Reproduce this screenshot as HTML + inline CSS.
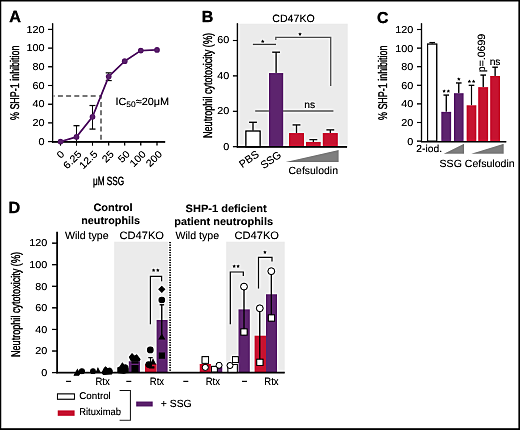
<!DOCTYPE html>
<html><head><meta charset="utf-8"><style>
html,body{margin:0;padding:0;background:#fff;}
body{width:520px;height:430px;overflow:hidden;position:relative;}
svg{position:absolute;left:0;top:0;font-family:"Liberation Sans", sans-serif;}
text{stroke:#000;stroke-width:0.08px;}
svg{will-change:transform;text-rendering:geometricPrecision;}
</style></head><body>
<svg width="520" height="430" viewBox="0 0 520 430">
<defs><filter id="f" x="0" y="0" width="520" height="430" filterUnits="userSpaceOnUse" color-interpolation-filters="sRGB">
<feGaussianBlur in="SourceGraphic" stdDeviation="0.35" result="s"/>
<feGaussianBlur in="s" stdDeviation="0.9" result="b"/>
<feComposite in="s" in2="b" operator="arithmetic" k1="0" k2="1.45" k3="-0.45" k4="0"/>
</filter></defs>
<g filter="url(#f)">
<rect x="0" y="0" width="520" height="430" fill="#fff"/>
<text x="9.3" y="21.6" font-size="16.2" text-anchor="start" font-weight="bold" fill="#000" style="stroke-width:0.35px">A</text>
<text transform="translate(19.4,82.8) rotate(-90)" font-size="12.5" text-anchor="middle" textLength="74.5" lengthAdjust="spacingAndGlyphs" style="stroke-width:0.35px">% SHP-1 inhibition</text>
<line x1="52.6" y1="23.3" x2="52.6" y2="142.3" stroke="#000" stroke-width="1.4" />
<line x1="48.1" y1="141.6" x2="52.6" y2="141.6" stroke="#000" stroke-width="1.2" />
<text transform="translate(44.400000000000006,144.79999999999998) scale(1.08,1)" font-size="10" text-anchor="end">0</text>
<line x1="48.1" y1="122.89999999999999" x2="52.6" y2="122.89999999999999" stroke="#000" stroke-width="1.2" />
<text transform="translate(44.400000000000006,126.1) scale(1.08,1)" font-size="10" text-anchor="end">20</text>
<line x1="48.1" y1="104.19999999999999" x2="52.6" y2="104.19999999999999" stroke="#000" stroke-width="1.2" />
<text transform="translate(44.400000000000006,107.39999999999999) scale(1.08,1)" font-size="10" text-anchor="end">40</text>
<line x1="48.1" y1="85.5" x2="52.6" y2="85.5" stroke="#000" stroke-width="1.2" />
<text transform="translate(44.400000000000006,88.7) scale(1.08,1)" font-size="10" text-anchor="end">60</text>
<line x1="48.1" y1="66.79999999999998" x2="52.6" y2="66.79999999999998" stroke="#000" stroke-width="1.2" />
<text transform="translate(44.400000000000006,69.99999999999999) scale(1.08,1)" font-size="10" text-anchor="end">80</text>
<line x1="48.1" y1="48.099999999999994" x2="52.6" y2="48.099999999999994" stroke="#000" stroke-width="1.2" />
<text transform="translate(44.400000000000006,51.3) scale(1.08,1)" font-size="10" text-anchor="end">100</text>
<line x1="48.1" y1="29.39999999999999" x2="52.6" y2="29.39999999999999" stroke="#000" stroke-width="1.2" />
<text transform="translate(44.400000000000006,32.599999999999994) scale(1.08,1)" font-size="10" text-anchor="end">120</text>
<line x1="51.9" y1="141.85" x2="165.2" y2="141.85" stroke="#000" stroke-width="1.8" />
<line x1="60.5" y1="141.6" x2="60.5" y2="145.6" stroke="#000" stroke-width="1.2" />
<text transform="translate(65.1,154.7) rotate(-45) scale(1.08,1)" font-size="10" text-anchor="end">0</text>
<line x1="76.5" y1="141.6" x2="76.5" y2="145.6" stroke="#000" stroke-width="1.2" />
<text transform="translate(82.2,154.7) rotate(-45) scale(1.08,1)" font-size="10" text-anchor="end">6.25</text>
<line x1="92.5" y1="141.6" x2="92.5" y2="145.6" stroke="#000" stroke-width="1.2" />
<text transform="translate(98.2,154.7) rotate(-45) scale(1.08,1)" font-size="10" text-anchor="end">12.5</text>
<line x1="108.7" y1="141.6" x2="108.7" y2="145.6" stroke="#000" stroke-width="1.2" />
<text transform="translate(114.4,154.7) rotate(-45) scale(1.08,1)" font-size="10" text-anchor="end">25</text>
<line x1="124.7" y1="141.6" x2="124.7" y2="145.6" stroke="#000" stroke-width="1.2" />
<text transform="translate(130.4,154.7) rotate(-45) scale(1.08,1)" font-size="10" text-anchor="end">50</text>
<line x1="140.8" y1="141.6" x2="140.8" y2="145.6" stroke="#000" stroke-width="1.2" />
<text transform="translate(146.5,154.7) rotate(-45) scale(1.08,1)" font-size="10" text-anchor="end">100</text>
<line x1="157.0" y1="141.6" x2="157.0" y2="145.6" stroke="#000" stroke-width="1.2" />
<text transform="translate(162.7,154.7) rotate(-45) scale(1.08,1)" font-size="10" text-anchor="end">200</text>
<path d="M53.6,95.9 H101.0 V141" fill="none" stroke="#666" stroke-width="1.5" stroke-dasharray="5,3.2" stroke-dashoffset="3.9"/>
<line x1="76.5" y1="125.705" x2="76.5" y2="141.6" stroke="#222" stroke-width="1.2" />
<line x1="73.5" y1="125.705" x2="79.5" y2="125.705" stroke="#222" stroke-width="1.3" />
<line x1="73.5" y1="141.6" x2="79.5" y2="141.6" stroke="#222" stroke-width="1.3" />
<line x1="92.5" y1="105.50899999999999" x2="92.5" y2="129.071" stroke="#222" stroke-width="1.2" />
<line x1="89.5" y1="105.50899999999999" x2="95.5" y2="105.50899999999999" stroke="#222" stroke-width="1.3" />
<line x1="89.5" y1="129.071" x2="95.5" y2="129.071" stroke="#222" stroke-width="1.3" />
<line x1="108.7" y1="72.87749999999998" x2="108.7" y2="80.5445" stroke="#222" stroke-width="1.2" />
<line x1="105.7" y1="72.87749999999998" x2="111.7" y2="72.87749999999998" stroke="#222" stroke-width="1.3" />
<line x1="105.7" y1="80.5445" x2="111.7" y2="80.5445" stroke="#222" stroke-width="1.3" />
<polyline points="60.5,141.6 76.5,136.9 92.5,116.8 108.7,76.6 124.7,61.2 140.8,50.6 157.0,49.9" fill="none" stroke="#5d246e" stroke-width="1.8"/>
<circle cx="60.5" cy="141.6" r="2.9" fill="#5d246e"/>
<circle cx="76.5" cy="136.9" r="2.9" fill="#5d246e"/>
<circle cx="92.5" cy="116.8" r="2.9" fill="#5d246e"/>
<circle cx="108.7" cy="76.6" r="2.9" fill="#5d246e"/>
<circle cx="124.7" cy="61.2" r="2.9" fill="#5d246e"/>
<circle cx="140.8" cy="50.6" r="2.9" fill="#5d246e"/>
<circle cx="157.0" cy="49.9" r="2.9" fill="#5d246e"/>
<text transform="translate(115.4,104.6) scale(1.05,1)" font-size="10.4">IC<tspan font-size="8" dy="2.2">50</tspan><tspan dy="-2.2">≈20μM</tspan></text>
<text transform="translate(108.5,185.2)" font-size="12" text-anchor="middle" textLength="31.2" lengthAdjust="spacingAndGlyphs" style="stroke-width:0.35px">μM SSG</text>
<text x="201.8" y="21.9" font-size="16.0" text-anchor="start" font-weight="bold" fill="#000" style="stroke-width:0.35px">B</text>
<text x="272.3" y="21.6" font-size="10.6" text-anchor="start" font-weight="normal" fill="#000" >CD47KO</text>
<rect x="237.4" y="23.7" width="110.29999999999998" height="122.99999999999999" fill="#ebebeb" stroke="none" stroke-width="1"/>
<text transform="translate(211.7,85.5) rotate(-90)" font-size="12.5" text-anchor="middle" textLength="105" lengthAdjust="spacingAndGlyphs" style="stroke-width:0.35px">Neutrophil cytotoxicity (%)</text>
<line x1="237.4" y1="23.3" x2="237.4" y2="147.2" stroke="#000" stroke-width="1.4" />
<line x1="232.9" y1="146.7" x2="237.4" y2="146.7" stroke="#000" stroke-width="1.2" />
<text transform="translate(229.20000000000002,149.5) scale(1.08,1)" font-size="10" text-anchor="end">0</text>
<line x1="232.9" y1="111.29999999999998" x2="237.4" y2="111.29999999999998" stroke="#000" stroke-width="1.2" />
<text transform="translate(229.20000000000002,114.09999999999998) scale(1.08,1)" font-size="10" text-anchor="end">20</text>
<line x1="232.9" y1="75.89999999999999" x2="237.4" y2="75.89999999999999" stroke="#000" stroke-width="1.2" />
<text transform="translate(229.20000000000002,78.69999999999999) scale(1.08,1)" font-size="10" text-anchor="end">40</text>
<line x1="232.9" y1="40.499999999999986" x2="237.4" y2="40.499999999999986" stroke="#000" stroke-width="1.2" />
<text transform="translate(229.20000000000002,43.29999999999998) scale(1.08,1)" font-size="10" text-anchor="end">60</text>
<line x1="255.2" y1="111" x2="333.4" y2="111" stroke="#666" stroke-width="1.3" />
<text x="309.8" y="108.2" font-size="10.3" text-anchor="middle" font-weight="normal" fill="#000" >ns</text>
<line x1="252.9" y1="44.4" x2="276" y2="44.4" stroke="#555" stroke-width="1.3" />
<polygon points="262.70,39.60 263.20,40.81 264.51,40.91 263.51,41.76 263.82,43.04 262.70,42.35 261.58,43.04 261.89,41.76 260.89,40.91 262.20,40.81" fill="#000"/>
<path d="M275.8,40 V37.4 H330.7 V86" fill="none" stroke="#666" stroke-width="1.3"/>
<polygon points="300.00,32.30 300.50,33.51 301.81,33.61 300.81,34.46 301.12,35.74 300.00,35.05 298.88,35.74 299.19,34.46 298.19,33.61 299.50,33.51" fill="#000"/>
<line x1="253.0" y1="130.416" x2="253.0" y2="122.27399999999999" stroke="#1a1a1a" stroke-width="1.3" />
<line x1="249.1" y1="122.27399999999999" x2="256.9" y2="122.27399999999999" stroke="#1a1a1a" stroke-width="1.3" />
<rect x="245.9" y="131.016" width="14.199999999999978" height="15.683999999999992" fill="#fff" stroke="#000" stroke-width="1.2"/>
<line x1="276.1" y1="73.06799999999998" x2="276.1" y2="52.18199999999999" stroke="#1a1a1a" stroke-width="1.3" />
<line x1="272.20000000000005" y1="52.18199999999999" x2="280.0" y2="52.18199999999999" stroke="#1a1a1a" stroke-width="1.3" />
<rect x="269.0" y="73.06799999999998" width="14.199999999999989" height="73.632" fill="#5d246e" stroke="none" stroke-width="1"/>
<line x1="296.5" y1="133.071" x2="296.5" y2="124.92899999999999" stroke="#1a1a1a" stroke-width="1.3" />
<line x1="292.6" y1="124.92899999999999" x2="300.4" y2="124.92899999999999" stroke="#1a1a1a" stroke-width="1.3" />
<rect x="289" y="133.071" width="15" height="13.62899999999999" fill="#c61330" stroke="none" stroke-width="1"/>
<line x1="313.35" y1="141.921" x2="313.35" y2="139.61999999999998" stroke="#1a1a1a" stroke-width="1.3" />
<line x1="309.45000000000005" y1="139.61999999999998" x2="317.25" y2="139.61999999999998" stroke="#1a1a1a" stroke-width="1.3" />
<rect x="306" y="141.921" width="14.699999999999989" height="4.778999999999996" fill="#c61330" stroke="none" stroke-width="1"/>
<line x1="330.3" y1="133.071" x2="330.3" y2="129.885" stroke="#1a1a1a" stroke-width="1.3" />
<line x1="326.40000000000003" y1="129.885" x2="334.2" y2="129.885" stroke="#1a1a1a" stroke-width="1.3" />
<rect x="322.8" y="133.071" width="15.0" height="13.62899999999999" fill="#c61330" stroke="none" stroke-width="1"/>
<line x1="236.70000000000002" y1="146.85" x2="347.1" y2="146.85" stroke="#000" stroke-width="1.7" />
<path d="M285.7,162 L338.6,150 L338.6,162 Z" fill="#7f7f7f"/>
<text x="288.5" y="173.6" font-size="10.4" text-anchor="start" font-weight="normal" fill="#000" textLength="49.5" lengthAdjust="spacingAndGlyphs" >Cefsulodin</text>
<text transform="translate(259.7,156) rotate(-35)" font-size="10.6" text-anchor="end">PBS</text>
<text transform="translate(282,156.5) rotate(-35)" font-size="10.6" text-anchor="end">SSG</text>
<text x="377.1" y="22.6" font-size="15.8" text-anchor="start" font-weight="bold" fill="#000" style="stroke-width:0.35px">C</text>
<text transform="translate(387.2,82.8) rotate(-90)" font-size="12.5" text-anchor="middle" textLength="74.5" lengthAdjust="spacingAndGlyphs" style="stroke-width:0.35px">% SHP-1 inhibition</text>
<line x1="421.5" y1="23.3" x2="421.5" y2="141.8" stroke="#000" stroke-width="1.4" />
<line x1="417.0" y1="141.1" x2="421.5" y2="141.1" stroke="#000" stroke-width="1.2" />
<text transform="translate(413.3,144.6) scale(1.08,1)" font-size="10" text-anchor="end">0</text>
<line x1="417.0" y1="122.5" x2="421.5" y2="122.5" stroke="#000" stroke-width="1.2" />
<text transform="translate(413.3,126.0) scale(1.08,1)" font-size="10" text-anchor="end">20</text>
<line x1="417.0" y1="103.89999999999999" x2="421.5" y2="103.89999999999999" stroke="#000" stroke-width="1.2" />
<text transform="translate(413.3,107.39999999999999) scale(1.08,1)" font-size="10" text-anchor="end">40</text>
<line x1="417.0" y1="85.29999999999998" x2="421.5" y2="85.29999999999998" stroke="#000" stroke-width="1.2" />
<text transform="translate(413.3,88.79999999999998) scale(1.08,1)" font-size="10" text-anchor="end">60</text>
<line x1="417.0" y1="66.69999999999999" x2="421.5" y2="66.69999999999999" stroke="#000" stroke-width="1.2" />
<text transform="translate(413.3,70.19999999999999) scale(1.08,1)" font-size="10" text-anchor="end">80</text>
<line x1="417.0" y1="48.099999999999994" x2="421.5" y2="48.099999999999994" stroke="#000" stroke-width="1.2" />
<text transform="translate(413.3,51.599999999999994) scale(1.08,1)" font-size="10" text-anchor="end">100</text>
<line x1="417.0" y1="29.499999999999986" x2="421.5" y2="29.499999999999986" stroke="#000" stroke-width="1.2" />
<text transform="translate(413.3,32.999999999999986) scale(1.08,1)" font-size="10" text-anchor="end">120</text>
<line x1="432.2" y1="43.44999999999999" x2="432.2" y2="42.519999999999996" stroke="#111" stroke-width="1.3" />
<line x1="429.4" y1="42.519999999999996" x2="435.0" y2="42.519999999999996" stroke="#111" stroke-width="1.3" />
<rect x="427.6" y="44.04999999999999" width="9.199999999999978" height="97.05000000000001" fill="#fff" stroke="#000" stroke-width="1.2"/>
<line x1="446.25" y1="111.80499999999999" x2="446.25" y2="95.065" stroke="#111" stroke-width="1.3" />
<line x1="443.45" y1="95.065" x2="449.05" y2="95.065" stroke="#111" stroke-width="1.3" />
<rect x="441.3" y="111.80499999999999" width="9.899999999999977" height="29.295" fill="#5d246e" stroke="none" stroke-width="1"/>
<polygon points="444.15,89.36 444.65,90.58 445.96,90.68 444.96,91.53 445.27,92.80 444.15,92.11 443.03,92.80 443.34,91.53 442.34,90.68 443.65,90.58" fill="#000"/>
<polygon points="448.35,89.36 448.85,90.58 450.16,90.68 449.16,91.53 449.47,92.80 448.35,92.11 447.23,92.80 447.54,91.53 446.54,90.68 447.85,90.58" fill="#000"/>
<line x1="458.8" y1="93.20499999999998" x2="458.8" y2="82.975" stroke="#111" stroke-width="1.3" />
<line x1="456.0" y1="82.975" x2="461.6" y2="82.975" stroke="#111" stroke-width="1.3" />
<rect x="454" y="93.20499999999998" width="9.600000000000023" height="47.89500000000001" fill="#5d246e" stroke="none" stroke-width="1"/>
<polygon points="458.80,77.27 459.30,78.49 460.61,78.59 459.61,79.44 459.92,80.71 458.80,80.02 457.68,80.71 457.99,79.44 456.99,78.59 458.30,78.49" fill="#000"/>
<line x1="471.5" y1="105.29499999999999" x2="471.5" y2="85.29999999999998" stroke="#111" stroke-width="1.3" />
<line x1="468.7" y1="85.29999999999998" x2="474.3" y2="85.29999999999998" stroke="#111" stroke-width="1.3" />
<rect x="466.6" y="105.29499999999999" width="9.799999999999955" height="35.80500000000001" fill="#c61330" stroke="none" stroke-width="1"/>
<polygon points="469.40,79.60 469.90,80.81 471.21,80.91 470.21,81.76 470.52,83.04 469.40,82.35 468.28,83.04 468.59,81.76 467.59,80.91 468.90,80.81" fill="#000"/>
<polygon points="473.60,79.60 474.10,80.81 475.41,80.91 474.41,81.76 474.72,83.04 473.60,82.35 472.48,83.04 472.79,81.76 471.79,80.91 473.10,80.81" fill="#000"/>
<line x1="483.2" y1="87.16" x2="483.2" y2="75.07" stroke="#111" stroke-width="1.3" />
<line x1="480.4" y1="75.07" x2="486.0" y2="75.07" stroke="#111" stroke-width="1.3" />
<rect x="478.2" y="87.16" width="10.0" height="53.94" fill="#c61330" stroke="none" stroke-width="1"/>
<text transform="translate(484.8,72.27) rotate(-90)" font-size="10.6" textLength="38.5" lengthAdjust="spacingAndGlyphs">p=.0699</text>
<line x1="495.1" y1="75.99999999999999" x2="495.1" y2="67.16499999999999" stroke="#111" stroke-width="1.3" />
<line x1="492.3" y1="67.16499999999999" x2="497.90000000000003" y2="67.16499999999999" stroke="#111" stroke-width="1.3" />
<rect x="490.2" y="75.99999999999999" width="9.800000000000011" height="65.10000000000001" fill="#c61330" stroke="none" stroke-width="1"/>
<text x="495.1" y="64.66499999999999" font-size="10.3" text-anchor="middle" font-weight="normal" fill="#000" >ns</text>
<line x1="420.8" y1="141.75" x2="506.3" y2="141.75" stroke="#000" stroke-width="1.7" />
<text x="416.3" y="152.2" font-size="10.3" text-anchor="start" font-weight="normal" fill="#000" >2-iod.</text>
<path d="M443.8,153.7 L464,143.8 L464,153.7 Z" fill="#7f7f7f"/>
<path d="M471.3,153.7 L503.7,143.8 L503.7,153.7 Z" fill="#7f7f7f"/>
<text x="439.6" y="166.5" font-size="10.4" text-anchor="start" font-weight="normal" fill="#000" textLength="75" lengthAdjust="spacingAndGlyphs" >SSG Cefsulodin</text>
<text x="8.4" y="212.9" font-size="16.2" text-anchor="start" font-weight="bold" fill="#000" style="stroke-width:0.35px">D</text>
<rect x="114.2" y="241.7" width="54.2" height="130.90000000000003" fill="#ebebeb" stroke="none" stroke-width="1"/>
<rect x="226.2" y="241.7" width="58.5" height="130.90000000000003" fill="#ebebeb" stroke="none" stroke-width="1"/>
<text x="113" y="210.6" font-size="10.6" text-anchor="middle" font-weight="bold" fill="#000" textLength="39.2" lengthAdjust="spacingAndGlyphs" >Control</text>
<text x="110.65" y="223.8" font-size="10.6" text-anchor="middle" font-weight="bold" fill="#000" textLength="58.8" lengthAdjust="spacingAndGlyphs" >neutrophils</text>
<text x="226.1" y="212.2" font-size="10.6" text-anchor="middle" font-weight="bold" fill="#000" textLength="81.2" lengthAdjust="spacingAndGlyphs" >SHP-1 deficient</text>
<text x="223.65" y="225.2" font-size="10.6" text-anchor="middle" font-weight="bold" fill="#000" textLength="98.8" lengthAdjust="spacingAndGlyphs" >patient neutrophils</text>
<text x="65" y="238.8" font-size="10.6" text-anchor="start" font-weight="normal" fill="#000" >Wild type</text>
<text x="119.4" y="238.8" font-size="10.8" text-anchor="start" font-weight="normal" fill="#000" textLength="44.6" lengthAdjust="spacingAndGlyphs" >CD47KO</text>
<text x="175.5" y="238.8" font-size="10.6" text-anchor="start" font-weight="normal" fill="#000" >Wild type</text>
<text x="234.4" y="238.8" font-size="10.8" text-anchor="start" font-weight="normal" fill="#000" textLength="44.6" lengthAdjust="spacingAndGlyphs" >CD47KO</text>
<text transform="translate(19.7,304.5) rotate(-90)" font-size="12.5" text-anchor="middle" textLength="105" lengthAdjust="spacingAndGlyphs" style="stroke-width:0.35px">Neutrophil cytotoxicity (%)</text>
<line x1="57.1" y1="231.7" x2="57.1" y2="373.3" stroke="#000" stroke-width="1.6" />
<line x1="52.1" y1="372.6" x2="57.1" y2="372.6" stroke="#000" stroke-width="1.3" />
<text transform="translate(47.3,375.90000000000003) scale(1.08,1)" font-size="10" text-anchor="end">0</text>
<line x1="52.1" y1="351.02000000000004" x2="57.1" y2="351.02000000000004" stroke="#000" stroke-width="1.3" />
<text transform="translate(47.3,354.32000000000005) scale(1.08,1)" font-size="10" text-anchor="end">20</text>
<line x1="52.1" y1="329.44000000000005" x2="57.1" y2="329.44000000000005" stroke="#000" stroke-width="1.3" />
<text transform="translate(47.3,332.74000000000007) scale(1.08,1)" font-size="10" text-anchor="end">40</text>
<line x1="52.1" y1="307.86" x2="57.1" y2="307.86" stroke="#000" stroke-width="1.3" />
<text transform="translate(47.3,311.16) scale(1.08,1)" font-size="10" text-anchor="end">60</text>
<line x1="52.1" y1="286.28000000000003" x2="57.1" y2="286.28000000000003" stroke="#000" stroke-width="1.3" />
<text transform="translate(47.3,289.58000000000004) scale(1.08,1)" font-size="10" text-anchor="end">80</text>
<line x1="52.1" y1="264.70000000000005" x2="57.1" y2="264.70000000000005" stroke="#000" stroke-width="1.3" />
<text transform="translate(47.3,268.00000000000006) scale(1.08,1)" font-size="10" text-anchor="end">100</text>
<line x1="52.1" y1="243.12000000000003" x2="57.1" y2="243.12000000000003" stroke="#000" stroke-width="1.3" />
<text transform="translate(47.3,246.42000000000004) scale(1.08,1)" font-size="10" text-anchor="end">120</text>
<line x1="170.1" y1="242" x2="170.1" y2="372.6" stroke="#1a1a1a" stroke-width="1.8" stroke-dasharray="1.3,1.2"/>
<path d="M150.4,324.3 V276.3 H161.6 V281.3" fill="none" stroke="#222" stroke-width="1.2"/>
<polygon points="153.60,268.40 154.10,269.61 155.41,269.71 154.41,270.56 154.72,271.84 153.60,271.15 152.48,271.84 152.79,270.56 151.79,269.71 153.10,269.61" fill="#000"/>
<polygon points="157.80,268.40 158.30,269.61 159.61,269.71 158.61,270.56 158.92,271.84 157.80,271.15 156.68,271.84 156.99,270.56 155.99,269.71 157.30,269.61" fill="#000"/>
<path d="M230.3,324.3 V272 H243.3 V275.9" fill="none" stroke="#222" stroke-width="1.2"/>
<polygon points="234.20,264.40 234.70,265.61 236.01,265.71 235.01,266.56 235.32,267.84 234.20,267.15 233.08,267.84 233.39,266.56 232.39,265.71 233.70,265.61" fill="#000"/>
<polygon points="238.10,264.40 238.60,265.61 239.91,265.71 238.91,266.56 239.22,267.84 238.10,267.15 236.98,267.84 237.29,266.56 236.29,265.71 237.60,265.61" fill="#000"/>
<path d="M258.5,288.6 V257.4 H272 V261.5" fill="none" stroke="#222" stroke-width="1.2"/>
<polygon points="264.90,250.40 265.40,251.61 266.71,251.71 265.71,252.56 266.02,253.84 264.90,253.15 263.78,253.84 264.09,252.56 263.09,251.71 264.40,251.61" fill="#000"/>
<rect x="156.6" y="319.94480000000004" width="11.0" height="52.65519999999998" fill="#5d246e" stroke="none" stroke-width="1"/>
<rect x="128.8" y="361.2705" width="11.199999999999989" height="11.329499999999996" fill="#5d246e" stroke="none" stroke-width="1"/>
<rect x="145.0" y="363.968" width="11.5" height="8.632000000000005" fill="#c61330" stroke="none" stroke-width="1"/>
<rect x="118.5" y="368.78400000000005" width="9.5" height="3.815999999999974" fill="#fff" stroke="#000" stroke-width="1"/>
<rect x="199.7" y="363.968" width="11.200000000000017" height="8.632000000000005" fill="#c61330" stroke="none" stroke-width="1"/>
<rect x="211.4" y="367.20500000000004" width="10.900000000000006" height="5.394999999999982" fill="#5d246e" stroke="none" stroke-width="1"/>
<rect x="227.9" y="364.468" width="9.400000000000006" height="8.132000000000005" fill="#fff" stroke="#000" stroke-width="1"/>
<rect x="238.5" y="309.3706" width="11.300000000000011" height="63.2294" fill="#5d246e" stroke="none" stroke-width="1"/>
<rect x="254.6" y="335.69820000000004" width="11.400000000000006" height="36.90179999999998" fill="#c61330" stroke="none" stroke-width="1"/>
<rect x="266.0" y="294.26460000000003" width="11.0" height="78.33539999999999" fill="#5d246e" stroke="none" stroke-width="1"/>
<line x1="161.8" y1="304.8" x2="161.8" y2="336" stroke="#000" stroke-width="1.2" />
<line x1="159.7" y1="304.8" x2="164.1" y2="304.8" stroke="#000" stroke-width="1.2" />
<line x1="244" y1="286.6" x2="244" y2="330" stroke="#000" stroke-width="1.2" />
<line x1="259.8" y1="308.3" x2="259.8" y2="360" stroke="#000" stroke-width="1.2" />
<line x1="271.3" y1="271.2" x2="271.3" y2="316" stroke="#000" stroke-width="1.2" />
<path d="M161.8,285.7 L165.4,289.3 L161.8,292.90000000000003 L158.20000000000002,289.3 Z" fill="#000"/>
<circle cx="161.8" cy="300" r="3.3" fill="#000" stroke="none" stroke-width="1"/>
<path d="M161.8,333.6 L165.3,339.4 L158.3,339.4 Z" fill="#000"/>
<rect x="158.8" y="352.5" width="6.2" height="6.2" fill="#000" stroke="none" stroke-width="1"/>
<circle cx="150.3" cy="349.9" r="3.35" fill="#000" stroke="none" stroke-width="1"/>
<line x1="148.4" y1="357.6" x2="152.6" y2="357.6" stroke="#000" stroke-width="1.2" />
<line x1="150.5" y1="357.6" x2="150.5" y2="362" stroke="#000" stroke-width="1.2" />
<path d="M153,358.2 L156.2,364.6 L149.8,364.6 Z" fill="#000"/>
<circle cx="148.8" cy="364.6" r="3.4" fill="#000" stroke="none" stroke-width="1"/>
<rect x="148.8" y="366.3" width="5.6" height="2.2" fill="#000"/>
<path d="M117.3,373 L117.3,367.5 L119.5,366.5 L122.3,362.3 L124.2,364.6 L125.5,364.3 C127.5,364.5 128.6,366 128.6,368 L128.6,372.5 L124,373.8 Z" fill="#000"/>
<rect x="131.5" y="361.2" width="7" height="2.4" fill="#000"/>
<rect x="131.5" y="365.1" width="7" height="7" fill="#000"/>
<path d="M128.8,357 L132,353 L134.5,355.6 L136.8,354.2 L140.6,359.3 L139.6,361.3 L130.8,361.3 Z" fill="#000"/>
<path d="M74,374.5 L77.4,368.4 L80.5,373.5 L79,375.8 L73.5,375.8 Z" fill="#000"/>
<circle cx="81.9" cy="371.2" r="3.05" fill="#000" stroke="none" stroke-width="1"/>
<circle cx="93" cy="371.2" r="2.9" fill="#000" stroke="none" stroke-width="1"/>
<path d="M95.5,372.8 L97.9,367.1 L100.8,372.8 Z" fill="#000"/>
<path d="M101.5,372.5 L103.8,368 L105.5,366.2 L107.5,368 L110,367.5 C112,368 113,370 112.8,372 L112,374.5 L103,374.9 Z" fill="#000"/>
<rect x="202.0" y="356.7" width="6.6" height="6.6" fill="#fff" stroke="#000" stroke-width="1"/>
<circle cx="205.3" cy="367.4" r="3" fill="#fff" stroke="#000" stroke-width="1"/>
<rect x="211.5" y="366.3" width="5.8" height="5.8" fill="#fff" stroke="#000" stroke-width="1"/>
<circle cx="219.1" cy="365.3" r="3" fill="#fff" stroke="#000" stroke-width="1"/>
<circle cx="230" cy="365.5" r="3" fill="#fff" stroke="#000" stroke-width="1"/>
<rect x="232.5" y="356.70000000000005" width="5.8" height="5.8" fill="#fff" stroke="#000" stroke-width="1"/>
<circle cx="244" cy="286.6" r="3.4" fill="#fff" stroke="#000" stroke-width="1"/>
<rect x="240.9" y="328.9" width="6.2" height="6.2" fill="#fff" stroke="#000" stroke-width="1"/>
<circle cx="259.8" cy="308.3" r="3.4" fill="#fff" stroke="#000" stroke-width="1"/>
<rect x="256.79999999999995" y="359.2" width="6.2" height="6.2" fill="#fff" stroke="#000" stroke-width="1"/>
<circle cx="271.3" cy="271.2" r="3.4" fill="#fff" stroke="#000" stroke-width="1"/>
<rect x="268.29999999999995" y="314.9" width="6.2" height="6.2" fill="#fff" stroke="#000" stroke-width="1"/>
<line x1="56.300000000000004" y1="372.65" x2="284.7" y2="372.65" stroke="#000" stroke-width="1.6" />
<line x1="66.1" y1="381.3" x2="71.1" y2="381.3" stroke="#000" stroke-width="1" />
<line x1="126.30000000000001" y1="381.3" x2="131.3" y2="381.3" stroke="#000" stroke-width="1" />
<line x1="183.3" y1="381.3" x2="188.3" y2="381.3" stroke="#000" stroke-width="1" />
<line x1="242.0" y1="381.3" x2="247.0" y2="381.3" stroke="#000" stroke-width="1" />
<text x="102.6" y="384.6" font-size="10.8" text-anchor="middle" font-weight="normal" fill="#000" textLength="14.3" lengthAdjust="spacingAndGlyphs" >Rtx</text>
<text x="157.0" y="384.6" font-size="10.8" text-anchor="middle" font-weight="normal" fill="#000" textLength="14.3" lengthAdjust="spacingAndGlyphs" >Rtx</text>
<text x="212.8" y="384.6" font-size="10.8" text-anchor="middle" font-weight="normal" fill="#000" textLength="14.3" lengthAdjust="spacingAndGlyphs" >Rtx</text>
<text x="271.5" y="384.6" font-size="10.8" text-anchor="middle" font-weight="normal" fill="#000" textLength="14.3" lengthAdjust="spacingAndGlyphs" >Rtx</text>
<rect x="57.4" y="393.9" width="17" height="5.3" fill="#fff" stroke="#000" stroke-width="1"/>
<text x="79.2" y="398.6" font-size="9.8" text-anchor="start" font-weight="normal" fill="#000" >Control</text>
<rect x="57.7" y="410.4" width="16.9" height="5.4" fill="#c61330" stroke="none" stroke-width="1"/>
<text x="79.2" y="415" font-size="9.9" text-anchor="start" font-weight="normal" fill="#000" textLength="41.8" lengthAdjust="spacingAndGlyphs" >Rituximab</text>
<path d="M119.6,390.5 H130.4 V420.3 H119.6" fill="none" stroke="#444" stroke-width="1.1"/>
<rect x="136.2" y="401.5" width="16.5" height="5" fill="#5d246e" stroke="none" stroke-width="1"/>
<text x="160.8" y="407.4" font-size="10.4" text-anchor="start" font-weight="normal" fill="#000" >+ SSG</text>
<path d="M0,0 H520 V430 H0 Z M1.3,1.5 V428.3 H518.4 V1.5 Z" fill="#000" fill-rule="evenodd"/>
</g>
</svg>
</body></html>
